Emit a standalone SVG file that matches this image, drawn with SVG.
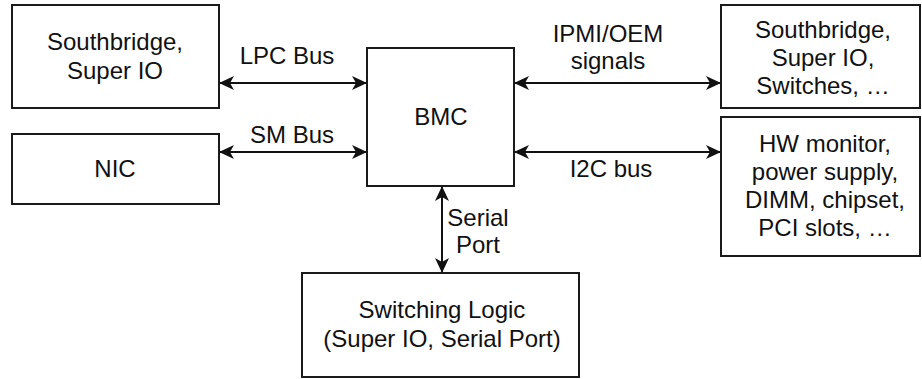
<svg xmlns="http://www.w3.org/2000/svg" width="922" height="379" viewBox="0 0 922 379">
  <style>
    .box { fill: #ffffff; stroke: #1a1a1a; stroke-width: 2; }
    .lbl { font-family: "Liberation Sans", Arial, Helvetica, sans-serif; font-size: 24px; fill: #111111; text-anchor: middle; }
    .wire { stroke: #111111; stroke-width: 2; fill: none; marker-start: url(#tip); marker-end: url(#tip); }
  </style>
  <defs>
    <marker id="tip" viewBox="-16 -8 17 16" refX="0" refY="0" markerWidth="17" markerHeight="16" markerUnits="userSpaceOnUse" orient="auto-start-reverse">
      <path d="M0,0 L-15,-7 L-11,0 L-15,7 Z" fill="#111111"/>
    </marker>
  </defs>
  <rect width="922" height="379" fill="#ffffff"/>

  <g id="connectors">
    <line class="wire" x1="219" y1="83" x2="367" y2="83"/>
    <line class="wire" x1="219" y1="152" x2="367" y2="152"/>
    <line class="wire" x1="514" y1="83" x2="721" y2="83"/>
    <line class="wire" x1="514" y1="152" x2="721" y2="152"/>
    <line class="wire" x1="442" y1="186" x2="442" y2="273"/>
    <text class="lbl" x="287" y="64">LPC Bus</text>
    <text class="lbl" x="292" y="143">SM Bus</text>
    <text class="lbl" x="608" y="42">IPMI/OEM</text>
    <text class="lbl" x="608" y="69">signals</text>
    <text class="lbl" x="611" y="177">I2C bus</text>
    <text class="lbl" x="478" y="226">Serial</text>
    <text class="lbl" x="478" y="253">Port</text>
  </g>

  <g id="southbridge-left">
    <rect class="box" x="12" y="5" width="207" height="103"/>
    <text class="lbl" x="115" y="50">Southbridge,</text>
    <text class="lbl" x="115" y="79">Super IO</text>
  </g>

  <g id="nic">
    <rect class="box" x="12" y="134" width="207" height="70"/>
    <text class="lbl" x="115" y="177">NIC</text>
  </g>

  <g id="bmc">
    <rect class="box" x="367" y="48" width="147" height="138"/>
    <text class="lbl" x="441" y="125">BMC</text>
  </g>

  <g id="southbridge-right">
    <rect class="box" x="721" y="5" width="199" height="103"/>
    <text class="lbl" x="823" y="38">Southbridge,</text>
    <text class="lbl" x="823" y="66">Super IO,</text>
    <text class="lbl" x="823" y="94">Switches, …</text>
  </g>

  <g id="hw-monitor">
    <rect class="box" x="721" y="117" width="199" height="139"/>
    <text class="lbl" x="825" y="152">HW monitor,</text>
    <text class="lbl" x="825" y="180">power supply,</text>
    <text class="lbl" x="825" y="208">DIMM, chipset,</text>
    <text class="lbl" x="825" y="236">PCI slots, …</text>
  </g>

  <g id="switching-logic">
    <rect class="box" x="302" y="273" width="277" height="104"/>
    <text class="lbl" x="442" y="318">Switching Logic</text>
    <text class="lbl" x="442" y="347">(Super IO, Serial Port)</text>
  </g>
</svg>
